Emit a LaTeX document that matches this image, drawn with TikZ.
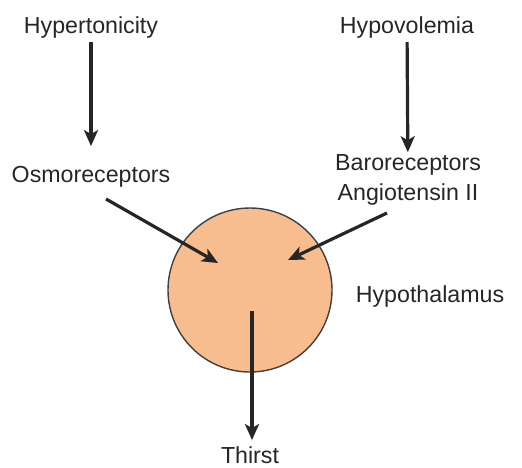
\documentclass[tikz,border=0pt]{standalone}
\usepackage{fontspec}
\setmainfont{Liberation Sans}
\definecolor{peach}{RGB}{247,189,143}
\usetikzlibrary{arrows.meta}
\tikzset{
  lbl/.style={font=\fontsize{11.6}{15}\selectfont,text=black!85,align=center,inner sep=2pt},
  arr/.style={-{Stealth[length=8pt,width=7pt,inset=2pt]},line width=1.6pt,black!85}
}
\begin{document}
\begin{tikzpicture}[x=0.5pt,y=-0.5pt]
\useasboundingbox (0,0) rectangle (522,467);
\node[draw=black!75,line width=0.7pt,fill=peach,circle,minimum size=82pt,inner sep=0pt] (hyp) at (250,290) {};
\node[lbl] (hyper) at (91,27) {Hypertonicity};
\node[lbl] (osmo) at (91,177) {Osmoreceptors};
\node[lbl] (hypo) at (407,27) {Hypovolemia};
\node[lbl] (baro) at (408,180) {Baroreceptors\\Angiotensin II};
\node[lbl] (hypothal) at (430,296) {Hypothalamus};
\node[lbl] (thirst) at (250,455) {Thirst};
\coordinate (osmoout) at (106,199);
\coordinate (inL) at (218,263);
\coordinate (baroout) at (387,213);
\coordinate (inR) at (288,260);
\coordinate (core) at (252,311);
\draw[arr,shorten >=8pt] (hyper) -- (osmo);
\draw[arr,shorten >=-1pt] (hypo) -- (baro);
\draw[arr] (osmoout) -- (inL);
\draw[arr] (baroout) -- (inR);
\draw[arr,shorten >=1pt] (core) -- (core |- thirst.north);
\end{tikzpicture}
\end{document}
